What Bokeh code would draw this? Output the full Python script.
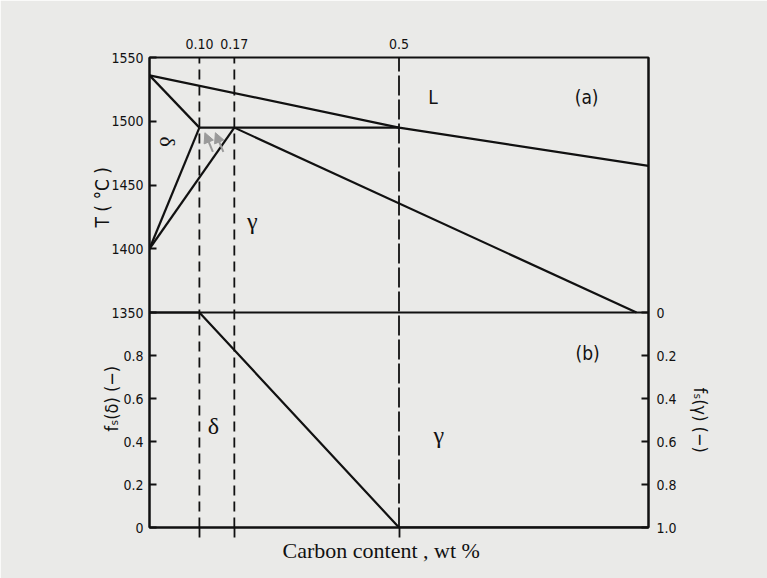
from bokeh.plotting import figure
from bokeh.models import Range1d, LinearAxis, FixedTicker, Arrow, NormalHead, Title
from bokeh.core.properties import value
from bokeh.embed import file_html
from bokeh.resources import INLINE

# ---------------- data ----------------
# (a) phase diagram, carbon content (wt%) vs temperature (deg C)
liquidus_x = [0.0, 0.5, 1.0]
liquidus_T = [1536, 1495, 1465]
delta_solidus_x = [0.0, 0.10]
delta_solidus_T = [1536, 1495]
peritectic_x = [0.10, 0.5]
peritectic_T = [1495, 1495]
delta_solvus_x = [0.0, 0.10]
delta_solvus_T = [1400, 1495]
gamma_solvus_x = [0.0, 0.17]
gamma_solvus_T = [1400, 1495]
gamma_solidus_x = [0.17, 0.976]
gamma_solidus_T = [1495, 1350]
base_x = [0.0, 1.0]
base_T = [1350, 1350]

# (b) solid fraction of delta after peritectic
fs_x = [0.0, 0.10, 0.5, 1.0]
fs_delta = [1.0, 1.0, 0.0, 0.0]

# marked compositions
marked_x = [0.10, 0.17, 0.5]
marked_labels = ["0.10", "0.17", "0.5"]
marked_dash = ["10 6", "10 6", "20 4"]

T_ticks = [1350, 1400, 1450, 1500, 1550]
fsd_ticks = [0.0, 0.2, 0.4, 0.6, 0.8]
fsd_labels = ["0", "0.2", "0.4", "0.6", "0.8"]
fsg_ticks = [0.0, 0.2, 0.4, 0.6, 0.8, 1.0]
fsg_labels = ["0", "0.2", "0.4", "0.6", "0.8", "1.0"]

# region labels
a_lab_x = [0.568, 0.876]
a_lab_T = [1519, 1519]
a_lab_t = ["L", "(a)"]
delta_a_x, delta_a_T = [0.036], [1484]
gamma_a_x, gamma_a_T = [0.206], [1422]
b_lab_x, b_lab_f, b_lab_t = [0.878], [0.81], ["(b)"]
delta_b_x, delta_b_f = [0.128], [0.47]
gamma_b_x, gamma_b_f = [0.58], [0.43]

# grey arrows (tail -> tip)
arrow_x0 = [0.127, 0.148]
arrow_T0 = [1476, 1476]
arrow_x1 = [0.111, 0.132]
arrow_T1 = [1491, 1491]

# ---------------- layout ----------------
BG = "#eaeae8"
INK = "#111111"
TICKFONT = "DejaVu Sans Condensed"
LW = 2.2

T_MIN, T_MAX = 1350, 1550
UPPER_PX, LOWER_PX = 255, 215            # heights of panels (a) and (b)
Y0 = T_MIN - (T_MAX - T_MIN) * LOWER_PX / UPPER_PX   # bottom of frame in T units
FD_TOP = (T_MAX - Y0) / (T_MIN - Y0)                 # top of frame in f units


def f_to_T(f):
    return Y0 + f * (T_MIN - Y0)


p = figure(width=767, height=578, x_range=Range1d(0, 1.0), y_range=Range1d(Y0, T_MAX),
           x_axis_location="above", output_backend="svg", toolbar_location=None,
           min_border_left=149, min_border_right=119, min_border_top=57, min_border_bottom=51,
           background_fill_color=BG, border_fill_color=BG,
           outline_line_color=INK, outline_line_width=2)
p.grid.visible = False
p.extra_y_ranges = {"fd": Range1d(0, FD_TOP), "fg": Range1d(1, 1 - FD_TOP)}


def style_axis(ax, ticks, overrides, tick_in=7, tick_out=0):
    ax.ticker = FixedTicker(ticks=ticks)
    ax.major_label_overrides = overrides
    ax.major_tick_in = tick_in
    ax.major_tick_out = tick_out
    ax.minor_tick_line_color = None
    ax.major_tick_line_color = INK
    ax.major_tick_line_width = 2
    ax.axis_line_color = INK
    ax.axis_line_width = 2
    ax.major_label_text_font = TICKFONT
    ax.major_label_text_font_size = "14px"
    ax.major_label_text_color = INK


# top axis: marked compositions
top_ax = p.xaxis[0]
style_axis(top_ax, marked_x, {x: l for x, l in zip(marked_x, marked_labels)}, tick_in=0)
top_ax.axis_line_color = None
top_ax.major_label_standoff = 9

# bottom axis: only the dashed-line extensions
bot_ax = LinearAxis()
style_axis(bot_ax, marked_x, {x: "" for x in marked_x}, tick_in=0, tick_out=10)
bot_ax.major_tick_line_width = 1.8
bot_ax.major_label_standoff = 0
p.add_layout(bot_ax, "below")

# left axis: temperatures above, f_s(delta) below
left_ticks = list(T_ticks) + [f_to_T(f) for f in fsd_ticks]
left_over = {t: str(t) for t in T_ticks}
left_over.update({f_to_T(f): l for f, l in zip(fsd_ticks, fsd_labels)})
style_axis(p.yaxis[0], left_ticks, left_over)
p.yaxis[0].major_label_standoff = 6

# right axis: f_s(gamma) in panel (b)
right = LinearAxis(y_range_name="fg")
style_axis(right, fsg_ticks, {f: l for f, l in zip(fsg_ticks, fsg_labels)})
right.major_label_standoff = 8
p.add_layout(right, "right")

# axis titles (side titles so that they sit beside their own panel)
tkw = dict(text_font=TICKFONT, text_font_style="normal",
           text_color=INK, align="left", vertical_align="bottom")
p.add_layout(Title(text="T  ( °C )", offset=300, standoff=-8, text_font_size="19px", **tkw), "left")
p.add_layout(Title(text="fₛ(δ) (−)", offset=96, standoff=-58, text_font_size="18px", **tkw), "left")
p.add_layout(Title(text="fₛ(γ) (−)", offset=330, standoff=20, text_font_size="18px", **tkw), "right")
p.add_layout(Title(text="Carbon content , wt %", offset=133, standoff=0,
                   text_font="Liberation Serif", text_font_size="22px",
                   text_font_style="normal", text_color=INK, align="left",
                   vertical_align="top"), "below")

# dashed verticals
for x, d in zip(marked_x, marked_dash):
    p.segment(x0=[x], y0=[Y0], x1=[x], y1=[T_MAX], line_color=INK, line_width=1.8, line_dash=d)

# panel (a)
for xs, ys in [(liquidus_x, liquidus_T), (delta_solidus_x, delta_solidus_T),
               (peritectic_x, peritectic_T), (delta_solvus_x, delta_solvus_T),
               (gamma_solvus_x, gamma_solvus_T), (gamma_solidus_x, gamma_solidus_T),
               (base_x, base_T)]:
    p.line(xs, ys, line_color=INK, line_width=LW)

for x0, y0, x1, y1 in zip(arrow_x0, arrow_T0, arrow_x1, arrow_T1):
    p.add_layout(Arrow(x_start=x0, y_start=y0, x_end=x1, y_end=y1,
                       line_color="#9a9a9a", line_width=2,
                       end=NormalHead(size=10, fill_color="#9a9a9a", line_color="#9a9a9a")))

p.text(a_lab_x, a_lab_T, text=a_lab_t, text_font=value(TICKFONT), text_font_size="19px",
       text_color=INK, text_align="center", text_baseline="middle")
p.text(delta_a_x, delta_a_T, text=["δ"], text_font=value("Liberation Serif"),
       text_font_size="22px", text_color=INK, text_align="center", text_baseline="middle",
       angle=-1.5708)
p.text(gamma_a_x, gamma_a_T, text=["γ"], text_font=value("Liberation Serif"),
       text_font_size="24px", text_color=INK, text_align="center", text_baseline="middle")

# panel (b)
p.line(fs_x, fs_delta, y_range_name="fd", line_color=INK, line_width=LW)
p.text(b_lab_x, b_lab_f, text=b_lab_t, y_range_name="fd", text_font=value(TICKFONT),
       text_font_size="19px", text_color=INK, text_align="center", text_baseline="middle")
p.text(delta_b_x, delta_b_f, text=["δ"], y_range_name="fd", text_font=value("Liberation Serif"),
       text_font_size="24px", text_color=INK, text_align="center", text_baseline="middle")
p.text(gamma_b_x, gamma_b_f, text=["γ"], y_range_name="fd", text_font=value("Liberation Serif"),
       text_font_size="24px", text_color=INK, text_align="center", text_baseline="middle")

open("out.html", "w").write(file_html(p, INLINE))
